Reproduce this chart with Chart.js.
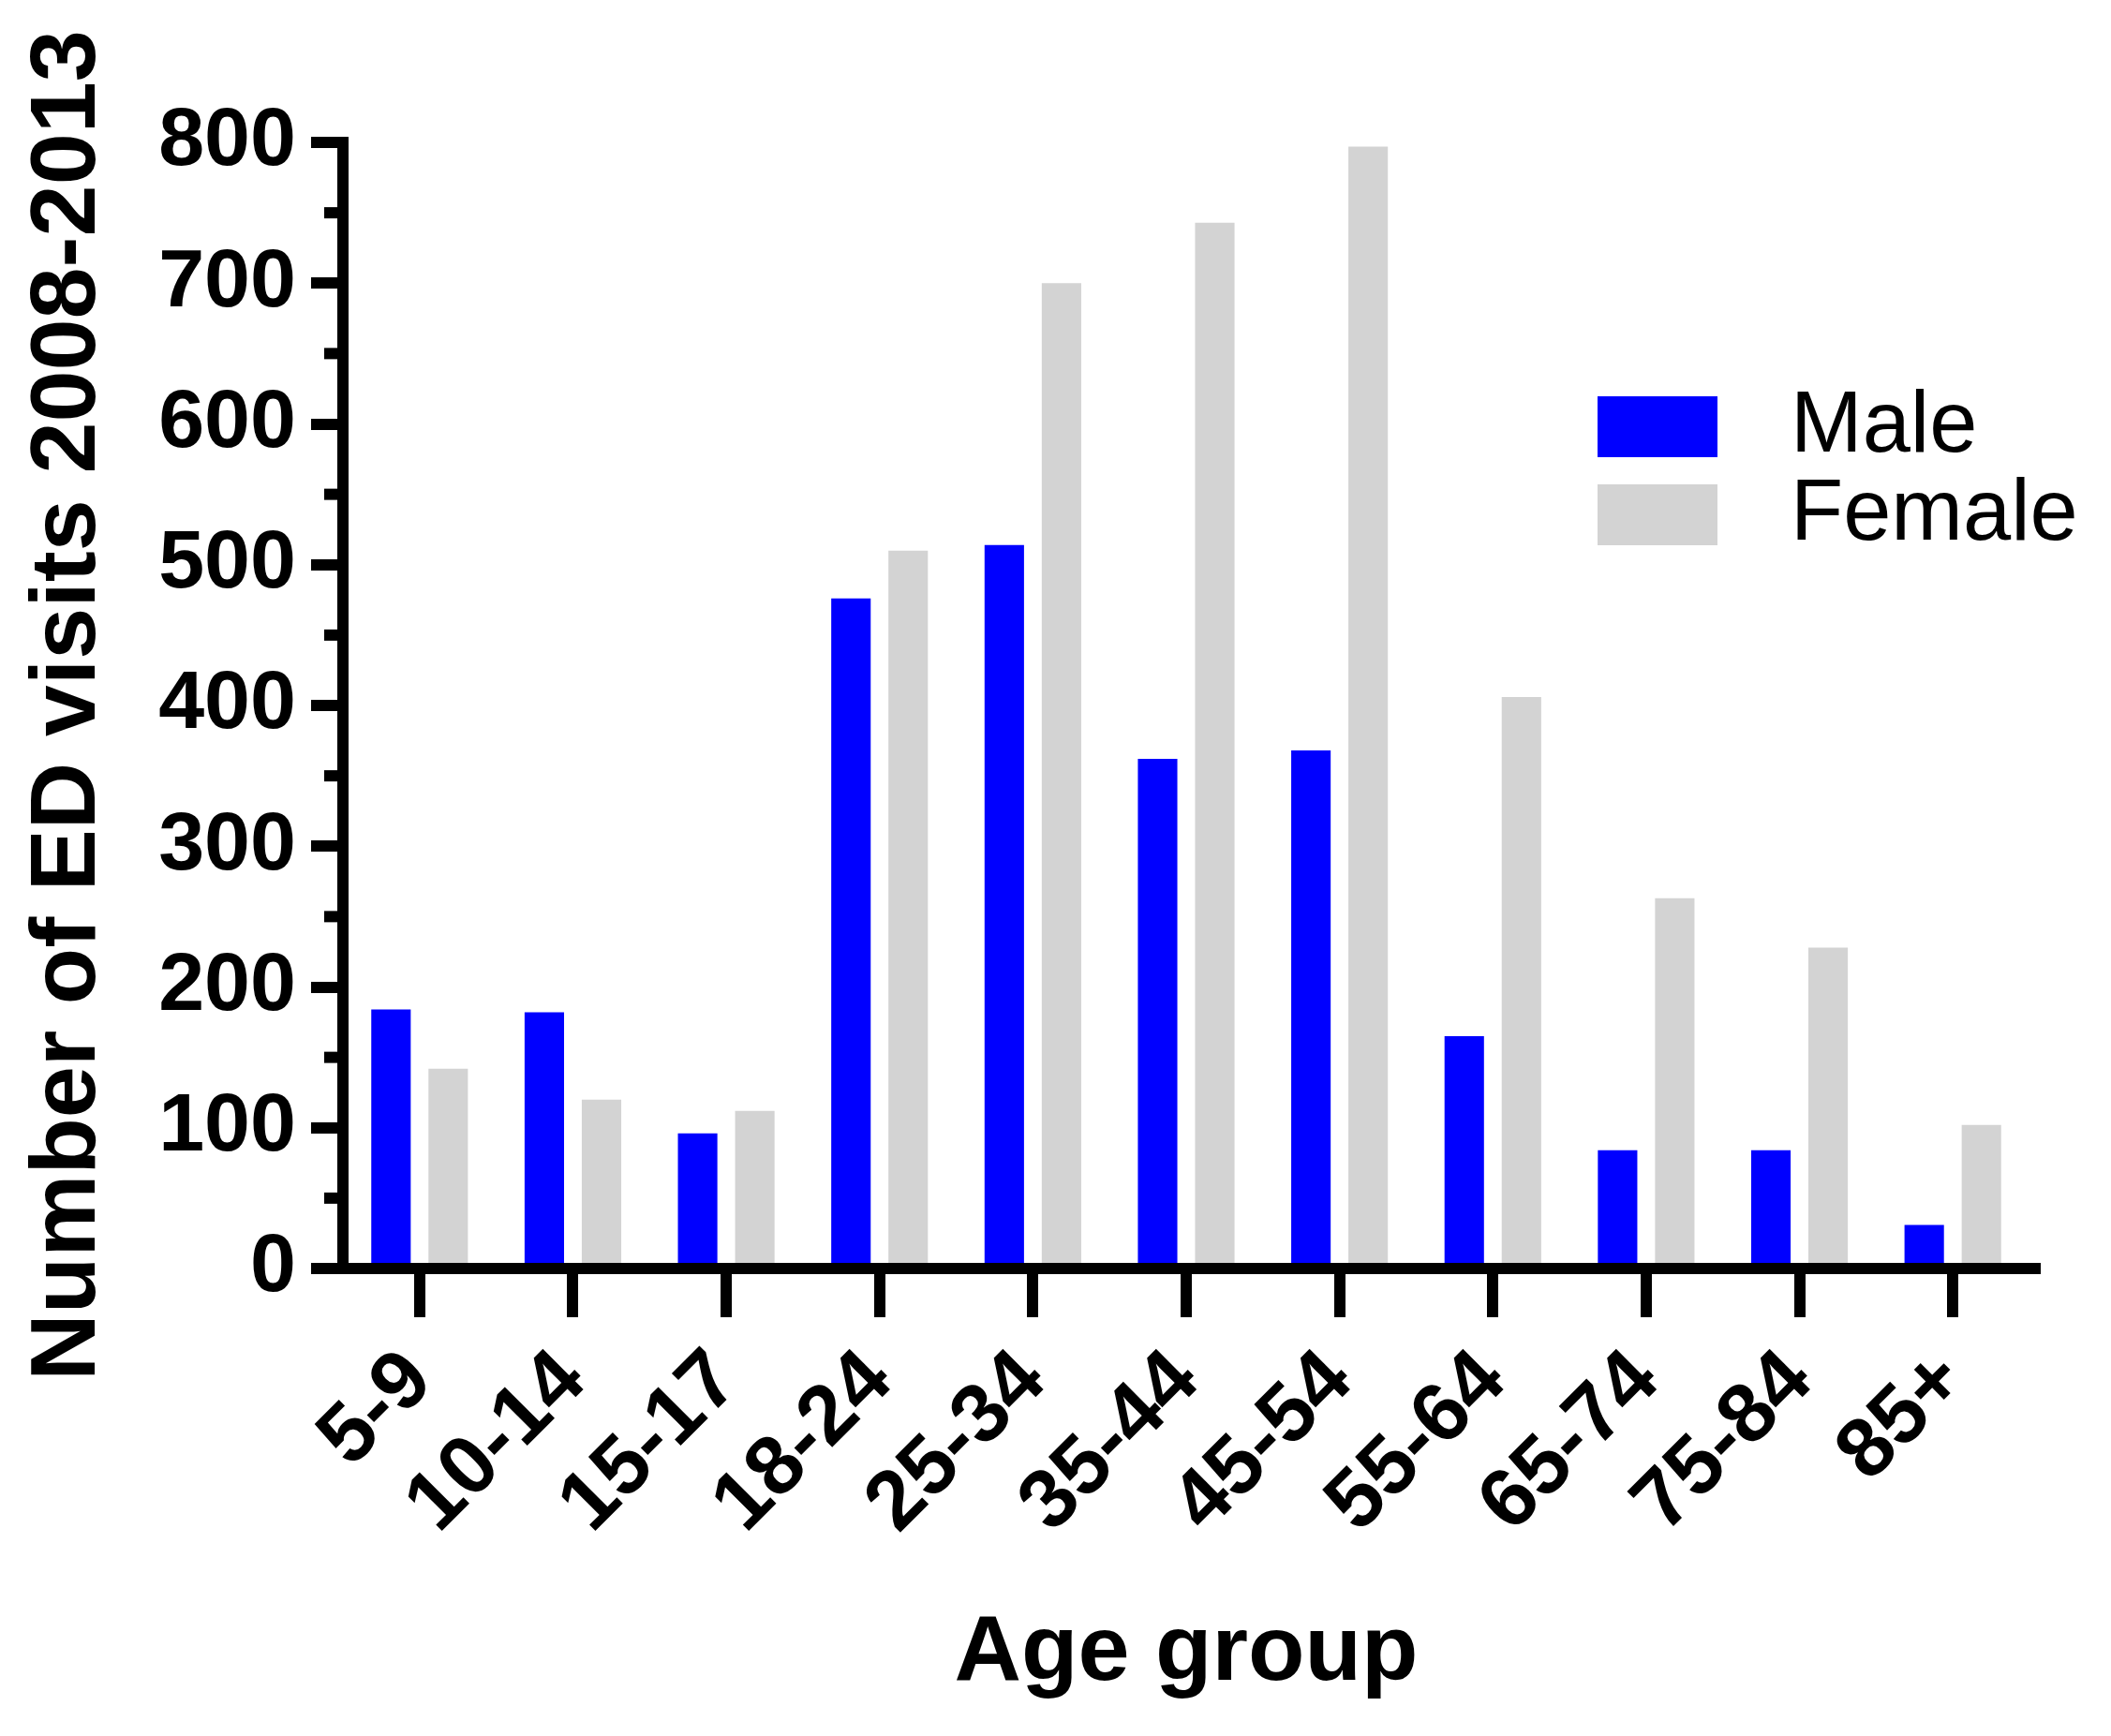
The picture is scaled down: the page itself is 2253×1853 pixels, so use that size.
<!DOCTYPE html>
<html>
<head>
<meta charset="utf-8">
<script src="https://cdn.jsdelivr.net/npm/chart.js@4.4.1/dist/chart.umd.min.js"></script>
<style>
  html, body { margin: 0; padding: 0; background: #fff; }
  #wrap { width: 2253px; height: 1853px; }
</style>
</head>
<body>
<div id="wrap"><canvas id="chart" width="2253" height="1853"></canvas></div>
<script>
const ageGroups = ['5-9', '10-14', '15-17', '18-24', '25-34', '35-44', '45-54', '55-64', '65-74', '75-84', '85+'];
const maleVisits = [184, 182, 96, 476, 514, 362, 368, 165, 84, 84, 31];
const femaleVisits = [142, 120, 112, 510, 700, 743, 797, 406, 263, 228, 102];
const yMin = 0;
const yMax = 800;
const yStep = 100;
const minorTicks = [50, 150, 250, 350, 450, 550, 650, 750];

const FONT = '"Liberation Sans", Arial, sans-serif';

// minor y ticks, axis end and the legend inside the plot
const extras = {
  id: 'extras',
  afterDraw(chart) {
    const ctx = chart.ctx;
    const y = chart.scales.y;
    const x = chart.scales.x;
    ctx.save();
    ctx.strokeStyle = '#000';
    ctx.lineWidth = 12;
    minorTicks.forEach(v => {
      const py = y.getPixelForValue(v);
      ctx.beginPath();
      ctx.moveTo(y.right - 20, py);
      ctx.lineTo(y.right, py);
      ctx.stroke();
    });
    ctx.beginPath();
    ctx.moveTo(chart.chartArea.right, x.top);
    ctx.lineTo(chart.chartArea.right + 12, x.top);
    ctx.stroke();

    ctx.font = '92px ' + FONT;
    ctx.textBaseline = 'middle';
    ctx.fillStyle = '#000';
    chart.data.datasets.forEach((ds, i) => {
      const top = 423 + i * 94;
      ctx.fillStyle = ds.backgroundColor;
      ctx.fillRect(1705, top, 128, 65);
      ctx.fillStyle = '#000';
      ctx.fillText(ds.label, 1911, top + 34);
    });
    ctx.restore();
  }
};

new Chart(document.getElementById('chart'), {
  type: 'bar',
  data: {
    labels: ageGroups,
    datasets: [
      { label: 'Male', data: maleVisits, backgroundColor: '#0000ff' },
      { label: 'Female', data: femaleVisits, backgroundColor: '#d3d3d3' }
    ]
  },
  options: {
    responsive: false,
    devicePixelRatio: 1,
    animation: false,
    categoryPercentage: 0.746,
    barPercentage: 0.69,
    layout: { padding: { top: 152, right: 87, left: 0, bottom: 0 } },
    plugins: {
      legend: { display: false },
      tooltip: { enabled: false }
    },
    scales: {
      x: {
        offset: true,
        grid: { offset: false, drawOnChartArea: false, drawTicks: true, tickLength: 52, tickWidth: 12, lineWidth: 12, color: '#000' },
        border: { display: true, width: 12, color: '#000' },
        ticks: {
          autoSkip: false, maxRotation: 45, minRotation: 45, padding: 16,
          color: '#000', font: { family: FONT, size: 89, weight: 'bold' }
        },
        title: {
          display: true, text: 'Age group', color: '#000',
          font: { family: FONT, size: 99, weight: 'bold' },
          padding: { top: 0, bottom: 28 }
        },
        afterFit(scale) { scale.height = 499; }
      },
      y: {
        min: yMin, max: yMax,
        grid: { drawOnChartArea: false, drawTicks: true, tickLength: 34, tickWidth: 12, lineWidth: 12, color: '#000' },
        border: { display: true, width: 12, color: '#000' },
        ticks: {
          stepSize: yStep, padding: 16, color: '#000',
          font: { family: FONT, size: 88, weight: 'bold' }
        },
        title: {
          display: true, text: 'Number of ED visits 2008-2013', color: '#000',
          font: { family: FONT, size: 99, weight: 'bold' },
          padding: { top: 14, bottom: 0 }
        },
        afterFit(scale) { scale.width = 366; }
      }
    }
  },
  plugins: [extras]
});
</script>
</body>
</html>
